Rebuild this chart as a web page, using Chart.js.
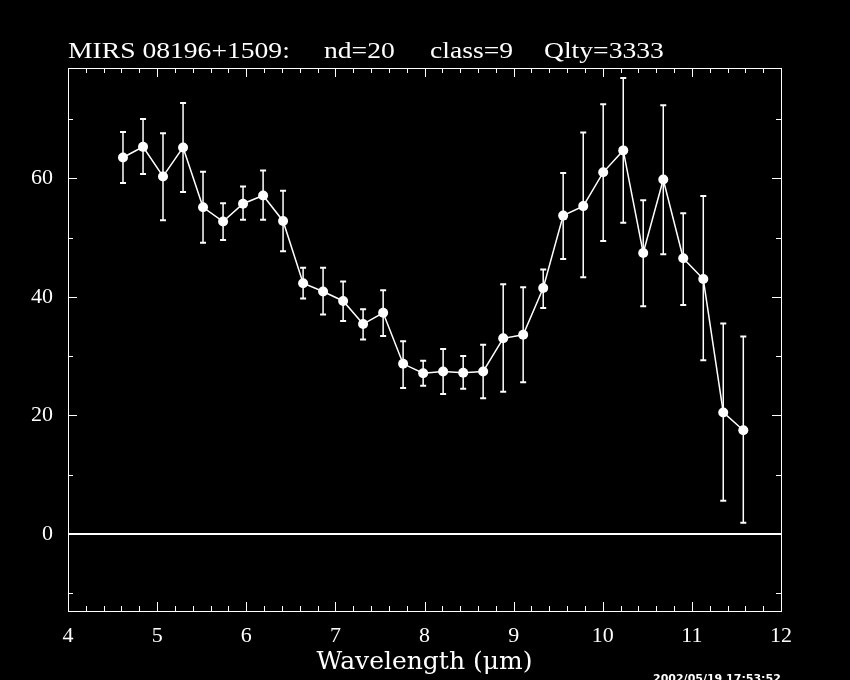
<!DOCTYPE html>
<html>
<head>
<meta charset="utf-8">
<script src="https://cdn.jsdelivr.net/npm/chart.js@4.4.0/dist/chart.umd.min.js"></script>
<style>
    html, body { margin: 0; padding: 0; background: #000; }
</style>
</head>
<body>
<canvas id="myChart" width="850" height="680"></canvas>
<script>
var wavelength = [4.617, 4.842, 5.066, 5.291, 5.515, 5.740, 5.964, 6.189, 6.413, 6.638, 6.862, 7.087, 7.311, 7.536, 7.760, 7.985,
    8.209, 8.434, 8.658, 8.883, 9.107, 9.332, 9.556, 9.781, 10.005, 10.230, 10.454, 10.679, 10.903, 11.128, 11.352, 11.577];
var flux = [63.5, 65.3, 60.3, 65.2, 55.1, 52.7, 55.7, 57.1, 52.8, 42.3, 40.9, 39.3, 35.4, 37.3, 28.7, 27.1,
    27.4, 27.2, 27.4, 33.0, 33.6, 41.5, 53.7, 55.3, 61.0, 64.7, 47.4, 59.8, 46.5, 43.0, 20.5, 17.5];
var fluxHigh = [67.8, 70.0, 67.6, 72.7, 61.1, 55.8, 58.6, 61.3, 57.9, 44.9, 44.9, 42.6, 37.9, 41.1, 32.5, 29.2,
    31.2, 30.0, 31.9, 42.1, 41.6, 44.6, 60.9, 67.7, 72.5, 76.9, 56.3, 72.3, 54.1, 57.0, 35.5, 33.3];
var fluxLow = [59.2, 60.7, 52.9, 57.7, 49.1, 49.6, 53.0, 53.0, 47.7, 39.7, 37.0, 35.9, 32.8, 33.4, 24.6, 25.0,
    23.6, 24.5, 22.9, 24.0, 25.6, 38.1, 46.4, 43.3, 49.4, 52.5, 38.4, 47.2, 38.6, 29.3, 5.6, 1.9];
var xTickLabels = [4, 5, 6, 7, 8, 9, 10, 11, 12];
var yTickLabels = [0, 20, 40, 60];
var titleParts = ["MIRS 08196+1509:", "nd=20", "class=9", "Qlty=3333"];
var stamp = "2002/05/19 17:53:52";

// frame, inward ticks, zero line and error bars
var framePlugin = {
    id: 'frame',
    beforeDatasetsDraw: function (chart) {
        var ctx = chart.ctx, a = chart.chartArea;
        var xs = chart.scales.x, ys = chart.scales.y;
        ctx.save();
        ctx.strokeStyle = '#fff';
        ctx.lineWidth = 1;
        ctx.strokeRect(a.left + 0.5, a.top + 0.5, a.right - a.left, a.bottom - a.top);
        ctx.beginPath();
        for (var v = 4; v <= 12.001; v += 0.2) {
            var px = Math.round(xs.getPixelForValue(v)) + 0.5;
            var len = Math.abs(v - Math.round(v)) < 0.01 ? 9 : 5;
            ctx.moveTo(px, a.bottom); ctx.lineTo(px, a.bottom - len);
            ctx.moveTo(px, a.top); ctx.lineTo(px, a.top + len);
        }
        for (var w = -10; w <= 70; w += 10) {
            var py = Math.round(ys.getPixelForValue(w)) + 0.5;
            var l2 = w % 20 === 0 ? 9 : 5;
            ctx.moveTo(a.left, py); ctx.lineTo(a.left + l2, py);
            ctx.moveTo(a.right, py); ctx.lineTo(a.right - l2, py);
        }
        ctx.stroke();

        var y0 = ys.getPixelForValue(0);
        ctx.lineWidth = 2;
        ctx.beginPath();
        ctx.moveTo(a.left, y0); ctx.lineTo(a.right, y0);
        ctx.stroke();

        for (var i = 0; i < wavelength.length; i++) {
            var x = xs.getPixelForValue(wavelength[i]);
            var top = ys.getPixelForValue(fluxHigh[i]);
            var bot = ys.getPixelForValue(fluxLow[i]);
            ctx.lineWidth = 1.5;
            ctx.beginPath();
            ctx.moveTo(x, top); ctx.lineTo(x, bot);
            ctx.stroke();
            ctx.lineWidth = 2;
            ctx.beginPath();
            ctx.moveTo(x - 3, top); ctx.lineTo(x + 3, top);
            ctx.moveTo(x - 3, bot); ctx.lineTo(x + 3, bot);
            ctx.stroke();
        }
        ctx.restore();
    },
    afterDraw: function (chart) {
        var ctx = chart.ctx;
        var pos = [68, 324, 430, 544];
        ctx.save();
        ctx.fillStyle = '#fff';
        ctx.font = '24px "Liberation Serif"';
        ctx.textBaseline = 'alphabetic';
        titleParts.forEach(function (t, i) {
            // the original plot font is wider, stretch a little
            ctx.save();
            ctx.translate(pos[i], 58);
            ctx.scale(1.15, 1);
            ctx.fillText(t, 0, 0);
            ctx.restore();
        });
        ctx.font = 'bold 11px "DejaVu Sans"';
        ctx.textBaseline = 'top';
        ctx.fillText(stamp, 653, 674);
        ctx.restore();
    }
};

var ctx = document.getElementById('myChart').getContext('2d');
var chart = new Chart(ctx, {
    type: 'line',
    data: {
        datasets: [{
            data: wavelength.map(function (w, i) { return { x: w, y: flux[i] }; }),
            borderColor: '#fff',
            borderWidth: 1.5,
            pointRadius: 5,
            pointBackgroundColor: '#fff',
            pointBorderColor: '#fff',
            pointBorderWidth: 0,
            tension: 0,
            fill: false
        }]
    },
    options: {
        responsive: false,
        animation: false,
        layout: { padding: { top: 68, right: 69, left: 0, bottom: 0 } },
        plugins: {
            legend: { display: false },
            tooltip: { enabled: false }
        },
        scales: {
            x: {
                type: 'linear',
                min: 4,
                max: 12,
                afterBuildTicks: function (s) {
                    s.ticks = xTickLabels.map(function (v) { return { value: v }; });
                },
                afterFit: function (s) { s.height = 69; },
                grid: { display: false, drawTicks: false },
                border: { display: false },
                ticks: {
                    color: '#fff',
                    font: { family: 'Liberation Serif', size: 22 },
                    padding: 12,
                    maxRotation: 0,
                    autoSkip: false
                },
                title: {
                    display: true,
                    text: 'Wavelength (μm)',
                    color: '#fff',
                    font: { family: 'DejaVu Serif', size: 25 },
                    padding: { top: 0, bottom: 3 }
                }
            },
            y: {
                min: -13,
                max: 78.6,
                afterBuildTicks: function (s) {
                    s.ticks = yTickLabels.map(function (v) { return { value: v }; });
                },
                afterFit: function (s) { s.width = 68; },
                grid: { display: false, drawTicks: false },
                border: { display: false },
                ticks: {
                    color: '#fff',
                    font: { family: 'Liberation Serif', size: 22 },
                    padding: 15,
                    autoSkip: false
                }
            }
        }
    },
    plugins: [framePlugin]
});
</script>
</body>
</html>
